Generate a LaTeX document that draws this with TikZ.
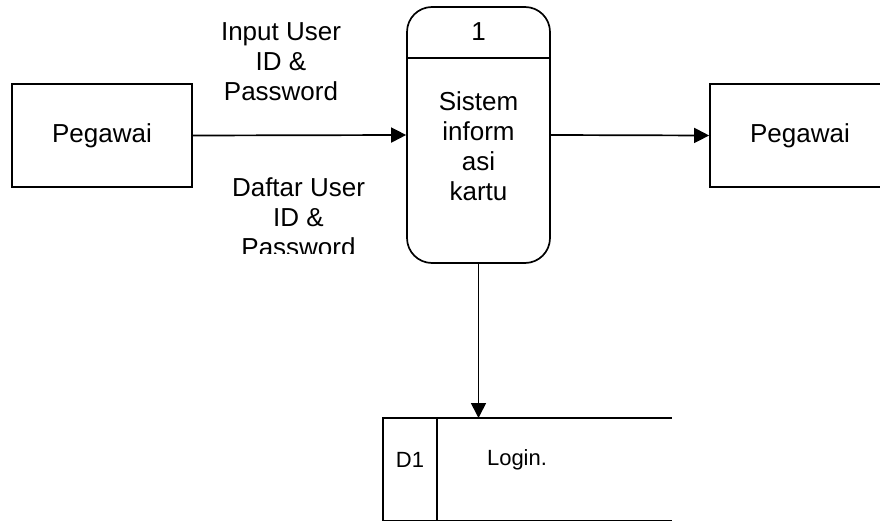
\documentclass[tikz,border=0pt]{standalone}
\usepackage{fontspec}
\setmainfont{Liberation Sans}
\usetikzlibrary{arrows.meta}
\begin{document}
\begin{tikzpicture}[x=1pt,y=-1pt,
  line width=1.7pt,
  bigfont/.style={font=\fontsize{26}{30}\selectfont},
  ent/.style={draw, minimum width=180pt, minimum height=103pt, inner sep=0pt, bigfont},
  procbox/.style={draw, rounded corners=25pt, minimum width=143pt, minimum height=256pt, inner sep=0pt},
  lbl/.style={align=center, bigfont, inner sep=0pt},
  smalltxt/.style={inner sep=0pt, font=\fontsize{22}{26}\selectfont},
  flow/.style={-{Triangle[length=15pt,width=15pt]}}
]
\clip (0,0) rectangle (880,521);
\node[ent] (pegL) at (102,135.5) {Pegawai};
\node[ent] (pegR) at (800,135.5) {Pegawai};
\node[procbox] (proc) at (478.5,135) {};
\coordinate (dv) at (0,58);
\draw (proc.west |- dv) -- (proc.east |- dv);
\node[lbl] (pnum) at (478.5,32) {1};
\node[lbl] (ptxt) at (478.5,146) {Sistem\\inform\\asi\\kartu};
\begin{scope}
  \clip (150,0) rectangle (400,100.5);
  \node[lbl] (lin) at (281,62) {Input User\\ID \&\\Password};
\end{scope}
\begin{scope}
  \clip (150,160) rectangle (400,254);
  \node[lbl] (lout) at (298.5,217) {Daftar User\\ID \&\\Password};
\end{scope}
\node[minimum width=287pt, minimum height=101pt, inner sep=0pt, anchor=north west] (store) at (383,418) {};
\draw (store.north east) -- (store.north west) -- (store.south west) -- (store.south east);
\coordinate (sd) at (437,0);
\draw (store.north -| sd) -- (store.south -| sd);
\node[smalltxt] (sid) at (410,460) {D1};
\node[smalltxt] (sname) at (517,460) {Login.};
\draw[flow] (pegL.east) -- (proc.west);
\draw[flow] (proc.east) -- (pegR.west);
\draw[flow] (proc.south) -- (proc.south |- store.north);
\end{tikzpicture}
\end{document}
